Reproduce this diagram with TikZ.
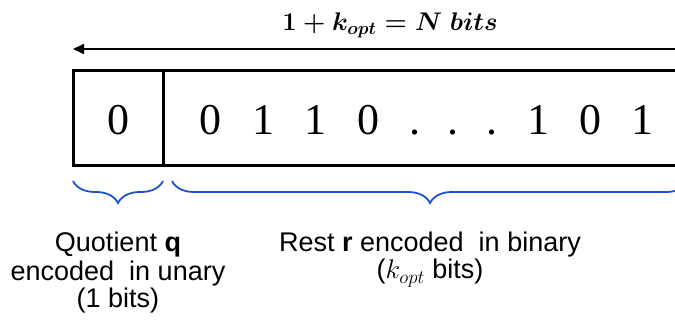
\documentclass[tikz,border=0pt]{standalone}
\usepackage{fix-cm}
\usepackage{fontspec}
\newfontfamily\labelfont{Liberation Sans}
\newfontfamily\digitfont{Liberation Serif}
\usetikzlibrary{decorations.pathreplacing,arrows.meta}
\definecolor{braceblue}{RGB}{32,82,205}
\begin{document}
\begin{tikzpicture}[x=1pt,y=-1pt,
  digit/.style={font=\digitfont\fontsize{44}{50}\selectfont, inner sep=0pt, anchor=base},
  lbl/.style={font=\labelfont\fontsize{27}{28}\selectfont, align=center, inner sep=0pt, anchor=base},
  title/.style={font=\fontsize{25.5}{28}\selectfont\boldmath, inner sep=0pt, anchor=base},
  bracestyle/.style={draw=braceblue, line width=1.8pt, decorate, decoration={brace,mirror,amplitude=22pt}},
  boxline/.style={line width=3pt},
  dimarrow/.style={line width=1.8pt, {Triangle[length=11pt,width=10pt]}-{Triangle[length=11pt,width=10pt]}}]
\useasboundingbox (0,0) rectangle (675,323);
\clip (0,0) rectangle (675,323);
% title and dimension arrow
\node[title] (ttl) at (390,31) {$1+k_{opt}=N\ bits$};
\coordinate (arrL) at (73,49);
\coordinate (arrR) at (686,49);
\draw[dimarrow] (arrL) -- (arrR);
% box
\coordinate (tl) at (73,71);
\coordinate (bl) at (73,166);
\coordinate (tr) at (695,71);
\coordinate (br) at (695,166);
\coordinate (dt) at (163,71);
\coordinate (db) at (163,166);
\draw[boxline] (tr) -- (tl) -- (bl) -- (br);
\draw[boxline] (dt) -- (db);
% digits
\node[digit] (q0) at (118,135) {0};
\node[digit] (r1) at (210,135) {0};
\node[digit] (r2) at (263,135) {1};
\node[digit] (r3) at (315,135) {1};
\node[digit] (r4) at (368,135) {0};
\node[digit] (d1) at (415,135) {.};
\node[digit] (d2) at (453,135) {.};
\node[digit] (d3) at (492,135) {.};
\node[digit] (r5) at (538,135) {1};
\node[digit] (r6) at (590,135) {0};
\node[digit] (r7) at (642,135) {1};
% braces
\coordinate (b1l) at (73,181);
\coordinate (b1r) at (163,181);
\coordinate (b2l) at (172,181);
\coordinate (b2r) at (688,181);
\draw[bracestyle] (b1l) -- (b1r);
\draw[bracestyle] (b2l) -- (b2r);
% labels (base anchor = last line baseline)
\node[lbl] (qlbl) at (118,308) {Quotient \textbf{q}\\encoded\ \ in unary\\(1 bits)};
\node[lbl] (rlbl) at (430,279) {Rest \textbf{r} encoded\ \ in binary\\($k_{opt}$ bits)};
\end{tikzpicture}
\end{document}
